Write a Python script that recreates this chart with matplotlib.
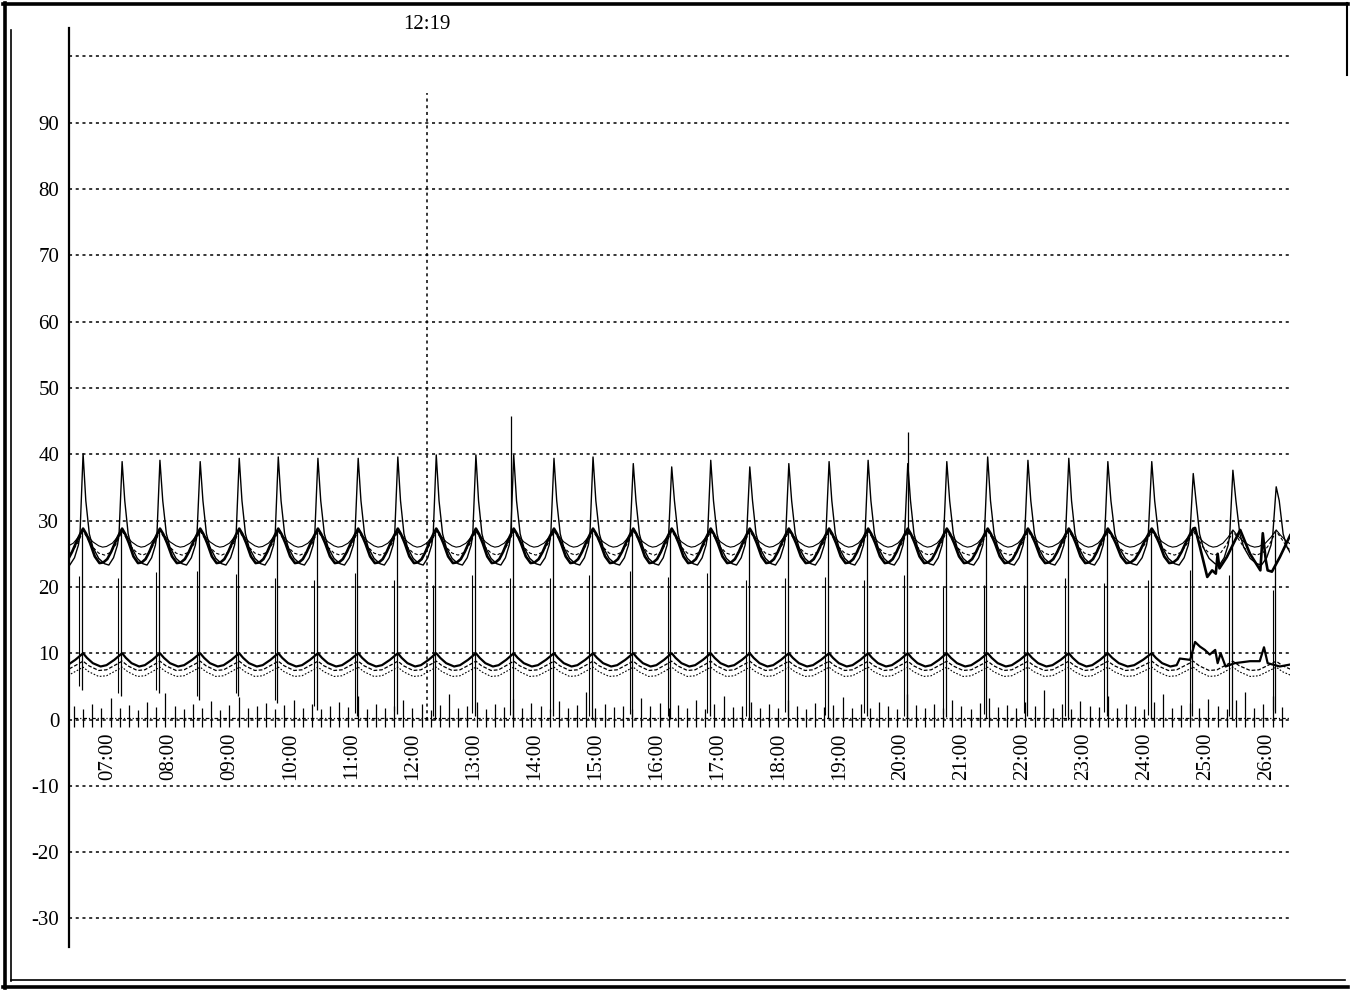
import numpy as np
import matplotlib
matplotlib.use("Agg")
import matplotlib.pyplot as plt
from matplotlib.lines import Line2D

# ---------------- data ----------------
TIME_LABELS = ["07:00", "08:00", "09:00", "10:00", "11:00", "12:00", "13:00",
               "14:00", "15:00", "16:00", "17:00", "18:00", "19:00", "20:00",
               "21:00", "22:00", "23:00", "24:00", "25:00", "26:00"]
TIME_HOURS = [7, 8, 9, 10, 11, 12, 13, 14, 15, 16, 17, 18, 19, 20, 21, 22, 23, 24, 25, 26]
Y_TICKS = [90, 80, 70, 60, 50, 40, 30, 20, 10, 0, -10, -20, -30]
GRID_LEVELS = [100, 90, 80, 70, 60, 50, 40, 30, 20, 10, 0, -10, -20, -30]

MARKER_TIME = 12.24
MARKER_LABEL = "12:19"
MARKER_TOP = 94.5

# time (h) of each cycle peak
PEAK_TIMES = [6.60, 7.24, 7.86, 8.52, 9.16, 9.80, 10.45, 11.11, 11.76, 12.39,
              13.04, 13.66, 14.32, 14.96, 15.62, 16.25, 16.89, 17.53, 18.17, 18.83,
              19.47, 20.12, 20.76, 21.43, 22.09, 22.76, 23.40, 24.12, 24.80, 25.45, 26.16]
SPIKE_PEAKS = [40.1, 38.9, 39.1, 38.9, 39.4, 39.6, 39.4, 39.4, 39.6, 39.9,
               39.9, 39.9, 39.4, 39.6, 38.6, 38.1, 39.1, 38.1, 38.6, 38.9,
               39.1, 38.6, 38.9, 39.6, 39.1, 39.4, 38.9, 38.9, 37.1, 37.6, 35.1]
LOWER_SPIKE_TOPS = [21.6, 21.3, 22.2, 22.4, 21.9, 21.3, 21.0, 22.1, 21.0, 20.3,
                    21.8, 21.3, 21.3, 21.8, 22.4, 21.5, 22.1, 21.0, 21.3, 21.5,
                    21.0, 21.8, 20.0, 20.3, 20.3, 21.3, 20.6, 21.0, 22.5, 21.8, 19.5]
DROP_BOTTOMS = [4.5, 3.5, 4.0, 3.0, 3.5, 2.5, 1.5, 0.5, 0.8, 0.0,
                0.5, 0.2, 0.6, 0.0, 0.4, 0.1, 0.5, 0.0, 0.6, 0.2,
                0.5, 0.0, 0.4, 0.3, 0.5, 0.0, 0.6, 0.2, 0.5, 0.0, 1.0]
EXTRA_SPIKE_TIMES = [13.62, 20.12]
EXTRA_SPIKE_TOPS = [45.8, 43.4]

# one-cycle shapes (phase 0 = peak, 1 = next peak)
THICK_UP_PHASE = [0.0, 0.08, 0.18, 0.30, 0.42, 0.52, 0.62, 0.72, 0.83, 0.92]
THICK_UP_VALUE = [28.8, 28.0, 26.6, 24.6, 23.6, 23.7, 24.2, 25.3, 26.8, 27.9]
THIN_UP_PHASE = [0.0, 0.10, 0.25, 0.40, 0.50, 0.60, 0.75, 0.88]
THIN_UP_VALUE = [28.6, 27.8, 26.8, 26.2, 26.0, 26.1, 26.6, 27.5]
DASH_UP_PHASE = [0.0, 0.12, 0.25, 0.40, 0.55, 0.70, 0.85]
DASH_UP_VALUE = [28.4, 27.3, 26.0, 25.1, 24.8, 25.2, 26.5]
SPIKE_PHASE = [0.0, 0.07, 0.16, 0.25, 0.40, 0.55, 0.66, 0.78, 0.88, 0.92]
SPIKE_VALUE = [39.0, 33.0, 28.0, 26.0, 24.3, 23.5, 23.3, 24.4, 26.3, 27.8]
LOW_THICK_PHASE = [0.0, 0.10, 0.25, 0.45, 0.60, 0.80, 0.92]
LOW_THICK_VALUE = [10.0, 9.3, 8.5, 8.0, 8.2, 9.0, 9.6]
LOW_DASH_PHASE = [0.0, 0.15, 0.40, 0.60, 0.85]
LOW_DASH_VALUE = [8.8, 8.1, 7.4, 7.5, 8.3]
LOW_DOT_PHASE = [0.0, 0.15, 0.40, 0.60, 0.85]
LOW_DOT_VALUE = [7.9, 7.2, 6.5, 6.6, 7.4]

# irregular end of the record
THICK_TAIL_T = [24.83, 24.91, 25.03, 25.11, 25.17, 25.20, 25.23, 25.35, 25.57,
                25.73, 25.90, 25.94, 25.99, 26.02, 26.09, 26.22, 26.39]
THICK_TAIL_V = [28.9, 26.0, 21.5, 22.5, 22.0, 25.0, 22.8, 24.5, 28.6,
                25.0, 22.5, 28.1, 24.0, 22.5, 22.3, 24.5, 27.8]
LOWER_TAIL_T = [24.58, 24.75, 24.83, 24.91, 24.99, 25.07, 25.16, 25.20, 25.25,
                25.33, 25.48, 25.73, 25.89, 25.96, 26.02, 26.22, 26.39]
LOWER_TAIL_V = [9.2, 9.0, 11.7, 11.0, 10.5, 9.8, 10.5, 8.5, 10.0,
                8.0, 8.5, 8.8, 8.8, 10.9, 8.5, 8.0, 8.3]

# event marks along the zero line
EVENT_START = 6.45
EVENT_STEP = 0.15
EVENT_TOPS = [2.0, 1.6, 2.4, 1.8, 3.2, 1.7, 2.2, 1.5, 2.6, 1.9, 4.0, 2.1, 1.6, 2.3, 1.8, 2.8, 1.5, 2.2, 3.4, 1.7,
              2.0, 2.5, 1.6, 2.2, 3.0, 1.8, 2.4, 1.6, 2.0, 2.7, 1.9, 3.5, 1.6, 2.3, 1.8, 2.1, 2.9, 1.7, 2.4, 1.5,
              2.2, 3.8, 1.8, 2.0, 2.6, 1.6, 2.3, 1.9, 3.1, 1.7, 2.5, 2.0, 1.6, 2.8, 1.8, 2.2, 4.2, 1.7, 2.4, 1.9,
              2.1, 1.6, 3.3, 2.0, 2.5, 1.7, 2.2, 1.8, 2.9, 1.6, 2.3, 3.6, 1.9, 2.0, 2.6, 1.7, 2.4, 1.8, 3.0, 2.1,
              1.6, 2.5, 1.9, 2.2, 3.4, 1.7, 2.3, 1.8, 2.7, 2.0, 1.6, 3.9, 2.2, 1.8, 2.4, 1.7, 2.9, 2.1, 1.6, 2.5,
              3.2, 1.9, 2.2, 1.7, 2.6, 2.0, 4.4, 1.8, 2.3, 1.6, 2.8, 2.1, 1.9, 3.5, 1.7, 2.4, 2.0, 1.6, 2.7, 3.8,
              1.8, 2.2, 2.5, 1.7, 3.1, 2.0, 1.6, 2.9, 4.1, 1.8, 2.3, 3.6, 1.9, 2.2]
EVENT_BOTTOM = -1.2


# ---------------- helpers ----------------
def build(phase, values, peaks_override=None):
    p = np.array(PEAK_TIMES)
    ext = np.concatenate([[p[0] - (p[1] - p[0])], p, [p[-1] + (p[-1] - p[-2])]])
    ts, vs = [], []
    n = len(p)
    for i in range(len(ext) - 1):
        t0, t1 = ext[i], ext[i + 1]
        vals = list(values)
        if peaks_override is not None:
            vals[0] = peaks_override[min(max(i - 1, 0), n - 1)]
        for ph, v in zip(phase, vals):
            ts.append(t0 + ph * (t1 - t0))
            vs.append(v)
    ts.append(ext[-1])
    vs.append(values[0])
    return np.array(ts), np.array(vs)


def with_tail(t, v, tt, tv):
    m = t < tt[0]
    return np.concatenate([t[m], tt]), np.concatenate([v[m], tv])


# ---------------- figure ----------------
plt.rcParams['font.family'] = ['Liberation Serif', 'DejaVu Serif']
fig = plt.figure(figsize=(13.5, 9.92), dpi=100)
ax = fig.add_axes([0.0511, 0.0454, 0.9044, 0.9264])
ax.set_xlim(6.369, 26.385)
ax.set_ylim(-34.3, 104.3)
for s in ("top", "right", "bottom"):
    ax.spines[s].set_visible(False)
ax.spines["left"].set_linewidth(1.6)
ax.set_xticks([])
ax.set_yticks(Y_TICKS)
ax.set_yticklabels([str(v) for v in Y_TICKS], fontsize=15)
ax.tick_params(axis="y", length=0, pad=7)

for g in GRID_LEVELS:
    ax.axhline(g, color="black", lw=1.1, dashes=(2.0, 2.4), zorder=1)

# marker line
ax.plot([MARKER_TIME, MARKER_TIME], [0, MARKER_TOP], color="black", lw=1.1,
        dashes=(2.0, 2.4))
ax.text(MARKER_TIME, 104.75, MARKER_LABEL, ha="center", va="center",
        fontsize=15, clip_on=False)

# time labels
for h, lab in zip(TIME_HOURS, TIME_LABELS):
    ax.text(h, -1.9, lab, rotation=90, ha="center", va="top", fontsize=15)

# upper traces
t, v = build(THIN_UP_PHASE, THIN_UP_VALUE)
ax.plot(t, v, color="black", lw=0.8)
t, v = build(DASH_UP_PHASE, DASH_UP_VALUE)
ax.plot(t, v, color="black", lw=0.8, dashes=(3, 2))
t, v = build(SPIKE_PHASE, SPIKE_VALUE, SPIKE_PEAKS)
ax.plot(t, v, color="black", lw=1.0)
t, v = build(THICK_UP_PHASE, THICK_UP_VALUE)
t, v = with_tail(t, v, THICK_TAIL_T, THICK_TAIL_V)
ax.plot(t, v, color="black", lw=1.9)

# lower traces
t, v = build(LOW_DOT_PHASE, LOW_DOT_VALUE)
ax.plot(t, v, color="black", lw=0.8, dashes=(1.5, 1.5))
t, v = build(LOW_DASH_PHASE, LOW_DASH_VALUE)
ax.plot(t, v, color="black", lw=0.9, dashes=(3, 1.5))
t, v = build(LOW_THICK_PHASE, LOW_THICK_VALUE)
t, v = with_tail(t, v, LOWER_TAIL_T, LOWER_TAIL_V)
ax.plot(t, v, color="black", lw=1.6)

# vertical drop / spike lines
pk = np.array(PEAK_TIMES)
ax.vlines(pk - 0.02, DROP_BOTTOMS, THICK_UP_VALUE[0] - 0.3, color="black", lw=0.9)
ax.vlines(pk - 0.06, np.array(DROP_BOTTOMS) + 0.5, LOWER_SPIKE_TOPS, color="black", lw=0.8)
ax.vlines(EXTRA_SPIKE_TIMES, 28.0, EXTRA_SPIKE_TOPS, color="black", lw=0.9)

# event marks on zero line
et = EVENT_START + EVENT_STEP * np.arange(len(EVENT_TOPS))
ax.vlines(et, EVENT_BOTTOM, EVENT_TOPS, color="black", lw=0.9)
ax.plot([6.45, 26.385], [0.3, 0.3], color="black", lw=0.9, dashes=(3, 1.5, 1, 1.5))

# page frame
def fline(xs, ys, lw):
    fig.add_artist(Line2D(np.array(xs) / 1350.0, 1 - np.array(ys) / 992.0,
                          transform=fig.transFigure, color="black", lw=lw))

fline([5, 5], [3, 988], 2.6)
fline([3, 1348], [4, 4], 2.6)
fline([3, 1348], [987, 987], 2.6)
fline([11, 11], [30, 981], 1.2)
fline([11, 1345], [980, 980], 1.2)
fline([1347, 1347], [3, 75], 1.5)

fig.savefig("out.png", dpi=100, facecolor="white")
